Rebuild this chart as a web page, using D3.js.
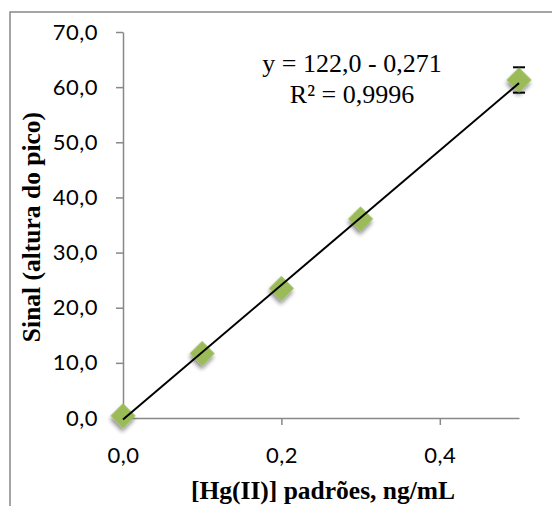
<!DOCTYPE html>
<html><head><meta charset="utf-8">
<script src="https://cdn.jsdelivr.net/npm/d3@7/dist/d3.min.js"></script>
<style>body{margin:0;background:#fff}svg{display:block}</style>
</head><body>
<svg id="c" width="552" height="506"></svg>
<script>
const concentrations = [0.0, 0.1, 0.2, 0.3, 0.5];
const signals = [0.4, 11.7, 23.5, 36.1, 61.3];
const errors = [0.5, 0.6, 0.8, 0.9, 2.3];
const xTicks = [0.0, 0.2, 0.4];
const yTicks = [0, 10, 20, 30, 40, 50, 60, 70];
const trendSlope = 122.0, trendIntercept = -0.271;
const equationLines = ["y = 122,0 - 0,271", "R² = 0,9996"];
const xTitle = "[Hg(II)] padrões, ng/mL";
const yTitle = "Sinal (altura do pico)";

const svg = d3.select("#c");
const fmt = v => d3.format(".1f")(v).replace(".", ",");
const x = d3.scaleLinear().domain([0, 0.5]).range([123, 519]);
const y = d3.scaleLinear().domain([0, 70]).range([418, 32]);

// outer frame
svg.append("rect").attr("x", 10).attr("y", 12).attr("width", 600).attr("height", 600)
  .attr("fill", "none").attr("stroke", "#888").attr("stroke-width", 1.5);

const defs = svg.append("defs");
const f = defs.append("filter").attr("id", "sh").attr("x", "-50%").attr("y", "-50%").attr("width", "200%").attr("height", "200%");
f.append("feGaussianBlur").attr("in", "SourceAlpha").attr("stdDeviation", 2.2).attr("result", "b");
f.append("feOffset").attr("in", "b").attr("dx", 2).attr("dy", 3).attr("result", "o");
f.append("feComponentTransfer").attr("in", "o").attr("result", "o2")
  .append("feFuncA").attr("type", "linear").attr("slope", 0.45);
const m = f.append("feMerge");
m.append("feMergeNode").attr("in", "o2");
m.append("feMergeNode").attr("in", "SourceGraphic");

const tickFont = "Lato, 'Open Sans', sans-serif";
const yAxis = d3.axisLeft(y).tickValues(yTicks).tickSize(7).tickSizeOuter(0).tickFormat(fmt).tickPadding(18);
const gy = svg.append("g").attr("transform", "translate(123,0)").call(yAxis);
const xAxis = d3.axisBottom(x).tickValues(xTicks).tickSize(7).tickSizeOuter(0).tickFormat(fmt).tickPadding(22);
const gx = svg.append("g").attr("transform", "translate(0,418)").call(xAxis);
[gy, gx].forEach(g => {
  g.select(".domain").attr("stroke", "#888").attr("stroke-width", 1.5);
  g.selectAll(".tick line").attr("stroke", "#888").attr("stroke-width", 1.5);
  g.selectAll(".tick text").attr("fill", "#000").style("font-family", tickFont)
    .style("font-size", "22px").style("letter-spacing", "0.5px");
});

const data = concentrations.map((c, i) => ({c, s: signals[i], e: errors[i]}));

// error bars (behind markers)
const eb = svg.append("g").attr("stroke", "#000").attr("stroke-width", 1.5);
data.forEach(d => {
  eb.append("line").attr("x1", x(d.c)).attr("x2", x(d.c)).attr("y1", y(d.s - d.e)).attr("y2", y(d.s + d.e));
  [d.s - d.e, d.s + d.e].forEach(v => eb.append("line").attr("x1", x(d.c) - 6).attr("x2", x(d.c) + 6)
    .attr("y1", y(v)).attr("y2", y(v)).attr("stroke-width", 2));
});

// markers
svg.append("g").selectAll("path").data(data).join("path")
  .attr("d", d3.symbol().type(d3.symbolSquare).size(312))
  .attr("transform", d => `translate(${x(d.c)},${y(d.s)}) rotate(45)`)
  .attr("fill", "#9BBB59").attr("filter", "url(#sh)");

// trend line
const x0 = 0, x1 = d3.max(concentrations);
svg.append("line").attr("x1", x(x0)).attr("y1", y(trendSlope * x0 + trendIntercept))
  .attr("x2", x(x1)).attr("y2", y(trendSlope * x1 + trendIntercept))
  .attr("stroke", "#000").attr("stroke-width", 2);

// equation
const serif = "'Liberation Serif', 'Times New Roman', serif";
svg.append("g").selectAll("text").data(equationLines).join("text")
  .attr("x", 352).attr("y", (d, i) => 72 + i * 31).attr("text-anchor", "middle")
  .style("font-family", serif).style("font-size", "26px").text(d => d);

svg.append("text").attr("x", 323).attr("y", 499).attr("text-anchor", "middle")
  .style("font-family", serif).style("font-size", "25.5px").style("font-weight", "bold").text(xTitle);
svg.append("text").attr("transform", "translate(40,227) rotate(-90)").attr("text-anchor", "middle")
  .style("font-family", serif).style("font-size", "25.5px").style("font-weight", "bold").text(yTitle);
</script>
</body></html>
